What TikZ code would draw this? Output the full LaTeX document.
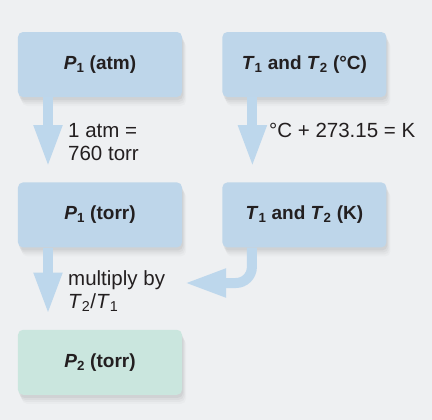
\documentclass[tikz,border=0pt]{standalone}
\usepackage{fontspec}
\setmainfont{Liberation Sans}
\usetikzlibrary{arrows.meta,shadows,positioning}
\definecolor{pagegray}{HTML}{EEF0F2}
\definecolor{boxblue}{HTML}{BED6EA}
\definecolor{boxgreen}{HTML}{CAE6DE}
\definecolor{flowblue}{HTML}{BDD7EC}
\definecolor{inkgray}{HTML}{231F20}
\tikzset{node distance=85bp, auto,
  box/.style={rounded corners=5bp, fill=boxblue, minimum width=164bp,
    minimum height=65bp, text=inkgray, font=\fontsize{19bp}{23bp}\bfseries,
    drop shadow={shadow xshift=4bp, shadow yshift=-9bp, opacity=.04},
    drop shadow={shadow xshift=3bp, shadow yshift=-7bp, opacity=.06},
    drop shadow={shadow xshift=2bp, shadow yshift=-5bp, opacity=.08},
    drop shadow={shadow xshift=1bp, shadow yshift=-3bp, opacity=.10}},
  flow/.style={draw=flowblue, line width=10bp,
    -{Triangle[width=26bp,length=42bp]}, shorten >=15bp},
  note/.style={anchor=north west, align=left, inner sep=0pt, text=inkgray,
    font=\fontsize{20.5bp}{23bp}\selectfont}
}

\begin{document}
\begin{tikzpicture}[x=1bp, y=-1bp]
\fill[pagegray] (0,0) rectangle (432,420);
\useasboundingbox (0,0) rectangle (432,420);

\node[box] (p1atm) at (100,64.5) {\textit{P}\textsubscript{1} (atm)};
\node[box, right=40bp of p1atm] (tc) {\textit{T}\textsubscript{1} and \textit{T}\textsubscript{2} (°C)};
\node[box, below=85bp of p1atm] (p1torr) {\textit{P}\textsubscript{1} (torr)};
\node[box, below=85bp of tc] (tk) {\textit{T}\textsubscript{1} and \textit{T}\textsubscript{2} (K)};
\node[box, fill=boxgreen, below=82bp of p1torr] (p2torr) {\textit{P}\textsubscript{2} (torr)};

% conversions
\draw[flow] ([xshift=-52bp]p1atm.south) -- ([xshift=-52bp]p1torr.north);
\draw[flow] ([xshift=-52bp]tc.south) -- ([xshift=-52bp]tc.south |- tk.north);
\draw[flow] ([xshift=-52bp]p1torr.south) -- ([xshift=-52bp]p2torr.north);
\coordinate (join) at (184,283);
\draw[flow, shorten >=0pt, rounded corners=16bp] ([xshift=-52.5bp]tk.south) |- (join);

\node[note] (atmnote) at (68,123) {1 atm =\\760 torr};
\node[note] (kelvin) at (269,123) {°C + 273.15 = K};
\node[note] (ratio) at (68,270) {multiply by\\\textit{T}\textsubscript{2}/\textit{T}\textsubscript{1}};
\end{tikzpicture}
\end{document}
